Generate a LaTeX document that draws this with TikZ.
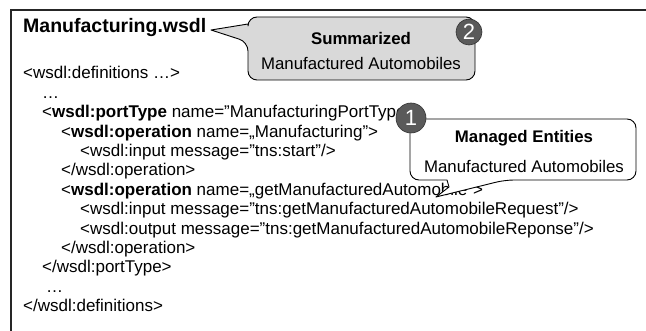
\documentclass[tikz,border=0pt]{standalone}
\usepackage{fontspec}
\setmainfont{Liberation Sans}
\definecolor{calloutgray}{HTML}{D9D9D9}
\definecolor{badgegray}{HTML}{5A5A5A}
\begin{document}
\begin{tikzpicture}[x=1pt,y=-1pt,
  code/.style={anchor=base west, inner sep=0pt, font=\fontsize{17}{20}\selectfont},
  title/.style={anchor=base west, inner sep=0pt, font=\fontsize{19.5}{23}\selectfont\bfseries},
  ctext/.style={anchor=base, inner sep=0pt, font=\fontsize{16.8}{20}\selectfont},
  chead/.style={anchor=base, inner sep=0pt, font=\fontsize{16.8}{20}\selectfont\bfseries},
  callout/.style={draw=black, line width=0.9pt, line join=round},
  badge/.style={circle, draw=black!80, line width=0.6pt, fill=badgegray, text=white, inner sep=0pt, font=\fontsize{22}{24}\selectfont},
  frame/.style={draw=black!85, line width=1.3pt}
]
\useasboundingbox (0,0) rectangle (646,331);
% frame
\coordinate (fbl) at (11,331);
\coordinate (ftl) at (11,10);
\coordinate (ftr) at (646,10);
\draw[frame] (fbl) -- (ftl) -- (ftr);

% title and code
\node[title] (title) at (23,33) {Manufacturing.wsdl};
\def\ls{19.4}
\node[code] (l0) at (23,79) {<wsdl:definitions …>};
\node[code] (l1) at (42,79+1*\ls) {…};
\node[code] (l2) at (42,79+2*\ls) {<\textbf{wsdl:portType} name="ManufacturingPortType">};
\node[code] (l3) at (61,79+3*\ls) {<\textbf{wsdl:operation} name=„Manufacturing">};
\node[code] (l4) at (80,79+4*\ls) {<wsdl:input message="tns:start"/>};
\node[code] (l5) at (61,79+5*\ls) {</wsdl:operation>};
\node[code] (l6) at (61,79+6*\ls) {<\textbf{wsdl:operation} name=„getManufacturedAutomobile">};
\node[code] (l7) at (80,79+7*\ls) {<wsdl:input message="tns:getManufacturedAutomobileRequest"/>};
\node[code] (l8) at (80,79+8*\ls) {<wsdl:output message="tns:getManufacturedAutomobileReponse"/>};
\node[code] (l9) at (61,79+9*\ls) {</wsdl:operation>};
\node[code] (l10) at (42,79+10*\ls) {</wsdl:portType>};
\node[code] (l11) at (46,79+11*\ls) {…};
\node[code] (l12) at (23,79+12*\ls) {</wsdl:definitions>};

% callout 2 (summarized)
\coordinate (tip2) at (211,30);
\draw[callout, fill=calloutgray, rounded corners=9pt]
  (248,24) -- (248,17) -- (475,17) -- (475,80) -- (248,80) -- (248,42)
  [sharp corners] -- (tip2) -- (248,24) -- cycle;
\node[chead] (c2h) at (361,45) {Summarized};
\node[ctext] (c2t) at (361,70) {Manufactured Automobiles};
\node[badge, minimum size=26pt] (b2) at (469,32) {2};

% callout 1 (managed entities)
\coordinate (tip1) at (436,197);
\draw[callout, fill=white, rounded corners=9pt]
  (447,180) -- (410,180) -- (410,119) -- (636,119) -- (636,180) -- (505,180)
  [sharp corners] -- (tip1) -- (449,187) -- (447,180) -- cycle;
\node[chead] (c1h) at (524,143) {Managed Entities};
\node[ctext] (c1t) at (524,173) {Manufactured Automobiles};
\node[badge, minimum size=30pt] (b1) at (411,118) {1};
\end{tikzpicture}
\end{document}
